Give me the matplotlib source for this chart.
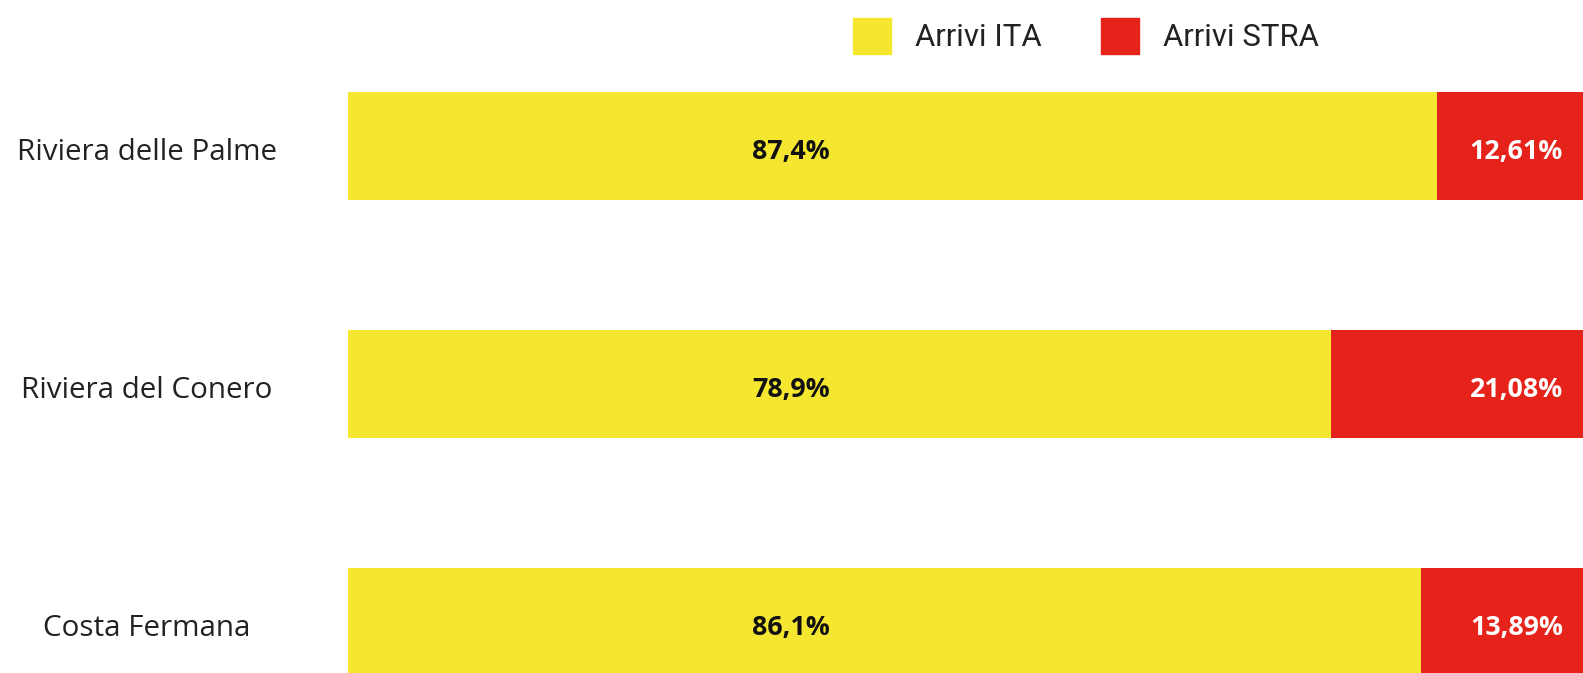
import matplotlib.pyplot as plt
from matplotlib.patches import Patch
from matplotlib.transforms import blended_transform_factory

# dati
zone = ["Riviera delle Palme", "Riviera del Conero", "Costa Fermana"]
arrivi_ita = [87.4, 78.9, 86.1]
arrivi_stra = [12.61, 21.08, 13.89]
etichette_ita = ["87,4%", "78,9%", "86,1%"]
etichette_stra = ["12,61%", "21,08%", "13,89%"]

giallo = "#F5E62F"
rosso = "#E6231A"

W, H = 1583, 673
fig = plt.figure(figsize=(W / 100, H / 100), dpi=100)
fig.patch.set_facecolor("white")

# l'asse parte a x=348 px e 100% corrisponde a ~1246 px (il grafico e' tagliato a destra)
ax = fig.add_axes([348 / W, 0, 1246 / W, 1])
ax.set_xlim(0, 100)
passo = 238
ax.set_ylim((H - 146) / passo, -146 / passo)
ax.axis("off")

pos = list(range(len(zone)))
alt = 108 / passo
ax.barh(pos, arrivi_ita, height=alt, color=giallo)
ax.barh(pos, arrivi_stra, left=arrivi_ita, height=alt, color=rosso)

tr = blended_transform_factory(fig.transFigure, ax.transData)
dy = 13.5 / passo  # linea di base un po' sotto il centro della barra

for i in pos:
    ax.text(791 / W, i + dy, etichette_ita[i], transform=tr, ha="center", va="baseline",
            fontsize=19.3, fontweight="bold", family="Open Sans", color="#111111")
    ax.text(1563 / W, i + dy, etichette_stra[i], transform=tr, ha="right", va="baseline",
            fontsize=19.3, fontweight="bold", family="Open Sans", color="white")

for i, nome in enumerate(zone):
    ax.text(147 / W, i + 14 / passo, nome, transform=tr, ha="center", va="baseline",
            fontsize=21.3, family="Open Sans", color="#222222")

handles = [Patch(color=giallo, label="Arrivi ITA"), Patch(color=rosso, label="Arrivi STRA")]
fig.legend(handles=handles, loc="center", bbox_to_anchor=(1086 / W, 1 - 36 / H),
           ncol=2, frameon=False, borderpad=0,
           prop={"family": "Roboto", "size": 22.4},
           handlelength=1.22, handleheight=1.37, handletextpad=0.77,
           columnspacing=1.93, labelcolor="#222222")

fig.savefig("out.png", dpi=100, facecolor="white")
